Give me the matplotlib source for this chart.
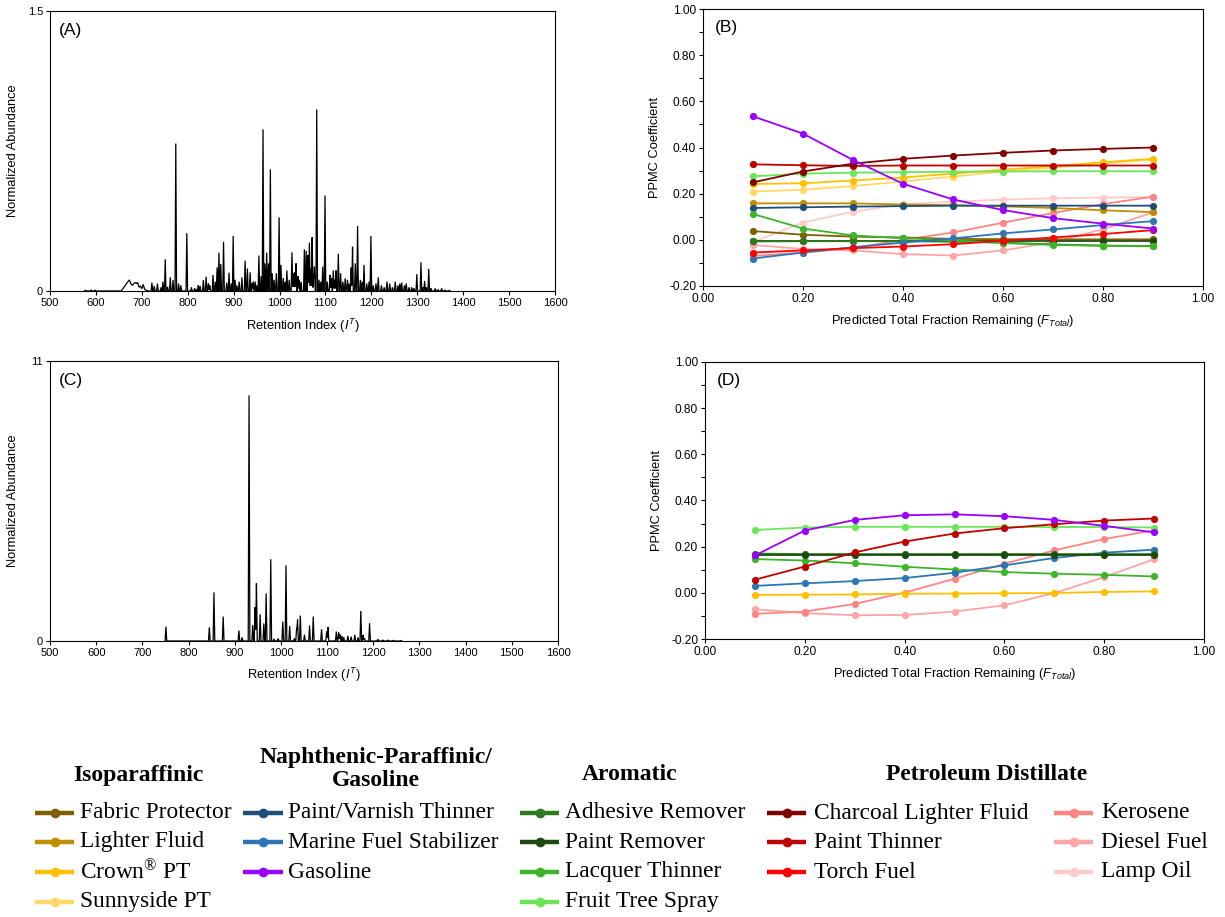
import numpy as np
import matplotlib
matplotlib.use('Agg')
import matplotlib.pyplot as plt
from matplotlib.lines import Line2D
from matplotlib.ticker import MultipleLocator, FormatStrFormatter

plt.rcParams['font.family'] = ['Liberation Sans', 'DejaVu Sans']
plt.rcParams['mathtext.fontset'] = 'custom'
plt.rcParams['mathtext.rm'] = 'Liberation Sans'
plt.rcParams['mathtext.it'] = 'Liberation Sans:italic'
plt.rcParams['mathtext.bf'] = 'Liberation Sans:bold'
plt.rcParams['axes.unicode_minus'] = False

# ---------------- data: chromatogram (A) ----------------
peaks_a_ri = [577, 590, 598, 722, 727, 734, 742, 746, 751, 756, 762, 768, 774, 780, 785, 798,
              820, 827, 834, 840, 845, 855, 864, 868, 872, 878, 885, 890, 899, 907, 918, 925,
              930, 936, 943, 951, 955, 964, 968, 972, 976, 980, 984, 993, 999, 1003, 1016,
              1027, 1030, 1036, 1043, 1054, 1058, 1062, 1065, 1071, 1076, 1081, 1094, 1099,
              1110, 1117, 1123, 1128, 1133, 1143, 1156, 1159, 1165, 1170, 1184, 1199, 1215,
              1234, 1252, 1266, 1276, 1299, 1308, 1316, 1325, 1339, 1353]
peaks_a_ab = [0.005, 0.006, 0.005, 0.045, 0.027, 0.040, 0.020, 0.050, 0.170, 0.023, 0.073, 0.059,
              0.790, 0.040, 0.030, 0.310, 0.010, 0.027, 0.059, 0.077, 0.040, 0.086, 0.127, 0.205,
              0.145, 0.264, 0.045, 0.098, 0.295, 0.030, 0.073, 0.163, 0.120, 0.100, 0.050, 0.030,
              0.190, 0.866, 0.148, 0.205, 0.148, 0.652, 0.095, 0.095, 0.395, 0.140, 0.110, 0.207,
              0.095, 0.148, 0.060, 0.223, 0.216, 0.193, 0.259, 0.288, 0.130, 0.973, 0.130, 0.511,
              0.086, 0.110, 0.110, 0.200, 0.095, 0.068, 0.125, 0.237, 0.148, 0.348, 0.140, 0.295,
              0.073, 0.050, 0.050, 0.045, 0.040, 0.090, 0.154, 0.054, 0.118, 0.014, 0.014]
minor_a_ri = [808, 815, 823, 848, 860, 895, 903, 912, 940, 947, 960, 988, 1008, 1012, 1021, 1033,
              1040, 1047, 1068, 1074, 1086, 1090, 1104, 1113, 1120, 1138, 1148, 1152, 1176, 1180,
              1190, 1195, 1204, 1210, 1222, 1228, 1240, 1246, 1258, 1262, 1272, 1282, 1288, 1293,
              1312, 1320, 1330, 1345, 1360, 1370]
minor_a_ab = [0.020, 0.015, 0.030, 0.030, 0.050, 0.040, 0.060, 0.050, 0.040, 0.050, 0.080, 0.060,
              0.070, 0.050, 0.060, 0.100, 0.080, 0.050, 0.120, 0.080, 0.060, 0.050, 0.050, 0.070,
              0.060, 0.050, 0.060, 0.040, 0.060, 0.050, 0.040, 0.050, 0.030, 0.040, 0.030, 0.020,
              0.040, 0.020, 0.030, 0.040, 0.030, 0.020, 0.020, 0.015, 0.020, 0.020, 0.015, 0.008,
              0.005, 0.004]
hump_a_ri = [655, 664, 669, 673, 676, 679, 683, 686, 689, 691, 694, 697, 700, 703, 706, 712]
hump_a_ab = [0.000, 0.030, 0.048, 0.059, 0.040, 0.030, 0.040, 0.046, 0.040, 0.045, 0.020, 0.027,
             0.012, 0.036, 0.010, 0.000]

# ---------------- data: chromatogram (C) ----------------
peaks_c_ri = [751, 845, 855, 875, 909, 916, 931, 939, 944, 947, 955, 963, 968, 978, 985, 994,
              1004, 1011, 1019, 1029, 1034, 1036, 1042, 1051, 1062, 1070, 1088, 1099, 1102,
              1120, 1125, 1128, 1132, 1136, 1145, 1152, 1160, 1167, 1173, 1178, 1181, 1192,
              1210, 1221, 1232, 1243, 1260]
peaks_c_ab = [0.56, 0.54, 1.91, 0.96, 0.41, 0.14, 9.65, 0.63, 1.33, 2.27, 1.05, 0.69, 1.87, 3.21,
              0.08, 0.10, 0.76, 2.97, 0.59, 0.10, 0.50, 0.84, 1.00, 0.25, 0.61, 0.96, 0.46, 0.37,
              0.55, 0.37, 0.33, 0.25, 0.20, 0.15, 0.20, 0.17, 0.24, 0.14, 1.18, 0.24, 0.10, 0.70,
              0.07, 0.04, 0.04, 0.03, 0.02]

# ---------------- data: PPMC coefficients ----------------
f_total = [0.1, 0.2, 0.3, 0.4, 0.5, 0.6, 0.7, 0.8, 0.9]

fabric_b = [0.038, 0.022, 0.014, 0.010, 0.004, 0.003, 0.002, 0.002, 0.002]
lighter_b = [0.158, 0.158, 0.158, 0.153, 0.150, 0.145, 0.138, 0.128, 0.120]
crown_b = [0.242, 0.245, 0.257, 0.270, 0.287, 0.304, 0.319, 0.336, 0.351]
sunny_b = [0.209, 0.217, 0.233, 0.253, 0.274, 0.296, 0.312, 0.330, 0.348]
pvt_b = [0.138, 0.141, 0.144, 0.146, 0.148, 0.148, 0.148, 0.148, 0.148]
marine_b = [-0.081, -0.055, -0.032, -0.012, 0.006, 0.028, 0.045, 0.064, 0.081]
gas_b = [0.535, 0.460, 0.346, 0.243, 0.175, 0.129, 0.094, 0.070, 0.049]
adhesive_b = [-0.007, -0.006, -0.006, -0.006, -0.008, -0.012, -0.020, -0.025, -0.027]
paintrem_b = [-0.004, -0.004, -0.004, -0.004, -0.004, -0.004, -0.004, -0.004, -0.004]
lacquer_b = [0.112, 0.049, 0.019, 0.007, -0.002, -0.014, -0.022, -0.026, -0.028]
fruit_b = [0.275, 0.287, 0.291, 0.293, 0.295, 0.296, 0.297, 0.297, 0.297]
charcoal_b = [0.249, 0.296, 0.330, 0.351, 0.365, 0.377, 0.387, 0.394, 0.400]
pthin_b = [0.327, 0.323, 0.320, 0.322, 0.322, 0.322, 0.322, 0.322, 0.322]
torch_b = [-0.055, -0.046, -0.036, -0.029, -0.019, -0.004, 0.010, 0.025, 0.042]
kero_b = [-0.070, -0.055, -0.036, 0.000, 0.032, 0.074, 0.116, 0.155, 0.187]
diesel_b = [-0.022, -0.040, -0.046, -0.062, -0.068, -0.046, -0.010, 0.046, 0.119]
lamp_b = [-0.009, 0.075, 0.122, 0.154, 0.165, 0.174, 0.180, 0.183, 0.185]

crown_d = [-0.009, -0.008, -0.007, -0.004, -0.003, -0.002, -0.001, 0.004, 0.006]
marine_d = [0.030, 0.041, 0.051, 0.064, 0.087, 0.119, 0.151, 0.174, 0.187]
gas_d = [0.162, 0.270, 0.316, 0.336, 0.340, 0.332, 0.316, 0.290, 0.262]
adhesive_d = [0.170, 0.168, 0.168, 0.168, 0.168, 0.168, 0.168, 0.168, 0.168]
paintrem_d = [0.165, 0.165, 0.165, 0.165, 0.165, 0.165, 0.165, 0.165, 0.165]
lacquer_d = [0.146, 0.140, 0.128, 0.113, 0.101, 0.090, 0.083, 0.078, 0.071]
fruit_d = [0.272, 0.283, 0.286, 0.286, 0.286, 0.286, 0.285, 0.285, 0.283]
pthin_d = [0.057, 0.114, 0.175, 0.222, 0.257, 0.280, 0.297, 0.313, 0.322]
kero_d = [-0.091, -0.081, -0.048, 0.001, 0.061, 0.126, 0.184, 0.233, 0.271]
diesel_d = [-0.071, -0.088, -0.097, -0.096, -0.081, -0.054, -0.001, 0.068, 0.146]

# ---------------- products / colours / legend groups ----------------
colors = {
    'Fabric Protector': '#7F6000', 'Lighter Fluid': '#BF8F00', 'Crown PT': '#FFC000',
    'Sunnyside PT': '#FFD966', 'Paint/Varnish Thinner': '#1F4E79',
    'Marine Fuel Stabilizer': '#2E75B6', 'Gasoline': '#9900FF',
    'Adhesive Remover': '#2F7A1F', 'Paint Remover': '#1D4A0E', 'Lacquer Thinner': '#3DB52A',
    'Fruit Tree Spray': '#6BE55A', 'Charcoal Lighter Fluid': '#800000',
    'Paint Thinner': '#C00000', 'Torch Fuel': '#FF0000', 'Kerosene': '#FF8585',
    'Diesel Fuel': '#FFA5A5', 'Lamp Oil': '#FFCACA'}

series_b = [('Lamp Oil', lamp_b), ('Diesel Fuel', diesel_b), ('Kerosene', kero_b),
            ('Sunnyside PT', sunny_b), ('Crown PT', crown_b), ('Fruit Tree Spray', fruit_b),
            ('Lighter Fluid', lighter_b), ('Paint/Varnish Thinner', pvt_b),
            ('Fabric Protector', fabric_b), ('Paint Remover', paintrem_b),
            ('Adhesive Remover', adhesive_b), ('Lacquer Thinner', lacquer_b),
            ('Marine Fuel Stabilizer', marine_b), ('Torch Fuel', torch_b),
            ('Paint Thinner', pthin_b), ('Charcoal Lighter Fluid', charcoal_b),
            ('Gasoline', gas_b)]
series_d = [('Diesel Fuel', diesel_d), ('Kerosene', kero_d), ('Crown PT', crown_d),
            ('Lacquer Thinner', lacquer_d), ('Marine Fuel Stabilizer', marine_d),
            ('Adhesive Remover', adhesive_d), ('Paint Remover', paintrem_d),
            ('Fruit Tree Spray', fruit_d), ('Paint Thinner', pthin_d), ('Gasoline', gas_d)]

group_titles = ['Isoparaffinic', 'Naphthenic-Paraffinic/\nGasoline', 'Aromatic',
                'Petroleum Distillate', '']
group_items = [['Fabric Protector', 'Lighter Fluid', 'Crown PT', 'Sunnyside PT'],
               ['Paint/Varnish Thinner', 'Marine Fuel Stabilizer', 'Gasoline'],
               ['Adhesive Remover', 'Paint Remover', 'Lacquer Thinner', 'Fruit Tree Spray'],
               ['Charcoal Lighter Fluid', 'Paint Thinner', 'Torch Fuel'],
               ['Kerosene', 'Diesel Fuel', 'Lamp Oil']]
display_names = {'Crown PT': r'Crown$\mathregular{^{®}}$ PT'}

# ---------------- figure ----------------
W, H = 1225, 917
fig = plt.figure(figsize=(W / 100, H / 100), dpi=100)


def ax_px(l, t, r, b):
    return fig.add_axes([l / W, 1 - b / H, (r - l) / W, (b - t) / H])


def envelope(pos, hgt, w, extra_x=(), extra_y=()):
    pos = np.asarray(pos, float)
    hgt = np.asarray(hgt, float)
    grid = np.concatenate([pos - w, pos, pos + w, np.asarray(extra_x, float)])
    grid = np.unique(grid)
    y = np.max(np.clip(hgt[None, :] * (1 - np.abs(grid[:, None] - pos[None, :]) / w), 0, None), axis=1)
    if len(extra_x):
        y = np.maximum(y, np.interp(grid, extra_x, extra_y, left=0, right=0))
    return grid, y


LAB_FS = 9.3


def style_axes(ax, tick_fs):
    for s in ax.spines.values():
        s.set_linewidth(0.8)
        s.set_color('black')
    ax.tick_params(direction='out', length=3, width=0.8, labelsize=tick_fs, pad=2)
    ax.tick_params(which='minor', direction='out', length=3, width=0.8)


def chrom_panel(ax, x, y, ymax, ylab_top, tag, xlab_y):
    ax.plot(x, y, color='black', lw=0.9, solid_joinstyle='miter')
    ax.set_xlim(500, 1600)
    ax.set_ylim(0, ymax)
    ax.set_xticks(np.arange(500, 1601, 100))
    ax.set_yticks([0, ymax])
    ax.set_yticklabels(['0', ylab_top])
    style_axes(ax, 8)
    ax.set_xlabel(r'Retention Index ($I^{T}$)', fontsize=LAB_FS)
    ax.set_ylabel('Normalized Abundance', fontsize=LAB_FS)
    ax.xaxis.set_label_coords(0.5, xlab_y)
    ax.yaxis.set_label_coords(-0.062, 0.5)
    ax.text(0.018, 0.93, tag, transform=ax.transAxes, fontsize=12.5, va='center', ha='left')


def ppmc_panel(ax, series, tag):
    for name, vals in series:
        ax.plot(f_total, vals, color=colors[name], lw=1.3, marker='o', ms=5.2,
                markeredgewidth=0)
    ax.set_xlim(0, 1)
    ax.set_ylim(-0.2, 1.0)
    ax.xaxis.set_major_locator(MultipleLocator(0.2))
    ax.yaxis.set_major_locator(MultipleLocator(0.2))
    ax.yaxis.set_minor_locator(MultipleLocator(0.1))
    ax.xaxis.set_major_formatter(FormatStrFormatter('%.2f'))
    ax.yaxis.set_major_formatter(FormatStrFormatter('%.2f'))
    style_axes(ax, 8.6)
    ax.set_xlabel(r'Predicted Total Fraction Remaining ($F_{Total}$)', fontsize=LAB_FS)
    ax.set_ylabel('PPMC Coefficient', fontsize=LAB_FS)
    ax.xaxis.set_label_coords(0.5, -0.097)
    ax.yaxis.set_label_coords(-0.084, 0.5)
    ax.text(0.024, 0.935, tag, transform=ax.transAxes, fontsize=12.5, va='center', ha='left')


axA = ax_px(50, 11, 555, 291)
xa, ya = envelope(peaks_a_ri + minor_a_ri, peaks_a_ab + minor_a_ab, 1.7, hump_a_ri, hump_a_ab)
chrom_panel(axA, xa, ya, 1.5, '1.5', '(A)', -0.093)

axC = ax_px(50, 361, 558, 641)
xc, yc = envelope(peaks_c_ri, peaks_c_ab, 1.8)
chrom_panel(axC, xc, yc, 11, '11', '(C)', -0.089)

axB = ax_px(703, 9, 1203, 286)
ppmc_panel(axB, series_b, '(B)')

axD = ax_px(705, 362, 1204, 639)
ppmc_panel(axD, series_d, '(D)')

# ---------------- legend ----------------
LEG_FS = 16.8
HEAD_FS = 17
serif = ['Liberation Serif', 'DejaVu Serif']
head_pos = [(138, 775), (376, 769), (630, 775), (987, 775), None]
line_x = [(35, 74), (243, 283), (520, 559), (767, 806), (1054, 1093)]
text_x = [80, 288, 565, 814, 1101]
row_y = [813, 842, 872, 902]

for gi, (title, items) in enumerate(zip(group_titles, group_items)):
    if head_pos[gi] is not None:
        hx, hy = head_pos[gi]
        fig.text(hx / W, 1 - hy / H, title, family=serif, fontsize=HEAD_FS, weight='bold',
                 ha='center', va='center', linespacing=1.15)
    x0, x1 = line_x[gi]
    for ri, name in enumerate(items):
        yy = 1 - row_y[ri] / H
        c = colors[name]
        fig.add_artist(Line2D([x0 / W, x1 / W], [yy, yy], transform=fig.transFigure,
                              color=c, lw=3.2, solid_capstyle='butt'))
        fig.add_artist(Line2D([(x0 + x1) / 2 / W], [yy], transform=fig.transFigure,
                              color=c, marker='o', ms=7, markeredgewidth=0, lw=0))
        fig.text(text_x[gi] / W, yy, display_names.get(name, name), family=serif,
                 fontsize=LEG_FS, ha='left', va='center')

fig.savefig('out.png', dpi=100)
